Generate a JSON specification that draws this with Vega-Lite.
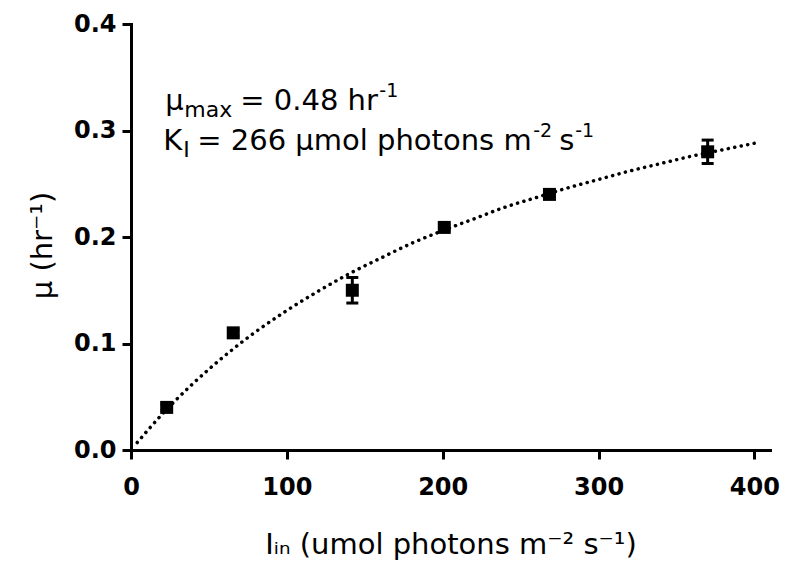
{
  "$schema": "https://vega.github.io/schema/vega-lite/v6.json",
  "width": 639,
  "height": 426,
  "autosize": {"type": "none"},
  "padding": {"left": 131, "top": 24, "right": 15, "bottom": 120},
  "background": "white",
  "config": {"view": {"stroke": null}, "font": "DejaVu Sans", "text": {"font": "DejaVu Sans", "color": "black", "align": "left", "baseline": "alphabetic"}},
  "datasets": {
    "points": [
      {"I": 22.9, "mu": 0.040, "lo": 0.037, "hi": 0.043},
      {"I": 65.6, "mu": 0.110, "lo": 0.107, "hi": 0.113},
      {"I": 142, "mu": 0.150, "lo": 0.138, "hi": 0.162},
      {"I": 201, "mu": 0.209, "lo": 0.206, "hi": 0.212},
      {"I": 268.5, "mu": 0.240, "lo": 0.237, "hi": 0.243},
      {"I": 370, "mu": 0.280, "lo": 0.269, "hi": 0.291}
    ],
    "curve": [
      {"I": 4, "mu": 0.007},
      {"I": 20, "mu": 0.0336},
      {"I": 40, "mu": 0.0627},
      {"I": 60, "mu": 0.0883},
      {"I": 80, "mu": 0.111},
      {"I": 100, "mu": 0.131},
      {"I": 120, "mu": 0.149},
      {"I": 140, "mu": 0.1655},
      {"I": 160, "mu": 0.180},
      {"I": 180, "mu": 0.194},
      {"I": 200, "mu": 0.206},
      {"I": 220, "mu": 0.217},
      {"I": 240, "mu": 0.228},
      {"I": 260, "mu": 0.237},
      {"I": 280, "mu": 0.246},
      {"I": 300, "mu": 0.254},
      {"I": 320, "mu": 0.262},
      {"I": 340, "mu": 0.269},
      {"I": 360, "mu": 0.276},
      {"I": 380, "mu": 0.282},
      {"I": 400, "mu": 0.288}
    ],
    "one": [{}]
  },
  "layer": [
    {
      "data": {"name": "curve"},
      "mark": {"type": "line", "color": "black", "strokeWidth": 3.5, "strokeCap": "round", "strokeDash": [0.1, 6.5], "interpolate": "monotone"},
      "encoding": {
        "x": {
          "field": "I", "type": "quantitative",
          "title": "Iᵢₙ (umol photons m⁻² s⁻¹)",
          "scale": {"domain": [0, 410], "nice": false, "zero": true},
          "axis": {
            "values": [0, 100, 200, 300, 400],
            "grid": false,
            "domainColor": "black", "domainWidth": 3, "domainCap": "square",
            "tickColor": "black", "tickWidth": 3, "tickSize": 9,
            "labelFont": "DejaVu Sans", "labelFontWeight": "bold", "labelFontSize": 24, "labelColor": "black",
            "labelPadding": 16, "labelFlush": false,
            "titleFont": "DejaVu Sans", "titleFontWeight": "normal", "titleFontSize": 29, "titleColor": "black",
            "titleBaseline": "alphabetic", "titleY": 103
          }
        },
        "y": {
          "field": "mu", "type": "quantitative",
          "title": "μ (hr⁻¹)",
          "scale": {"domain": [0, 0.4], "nice": false},
          "axis": {
            "values": [0, 0.1, 0.2, 0.3, 0.4],
            "format": ".1f",
            "grid": false,
            "domainColor": "black", "domainWidth": 3, "domainCap": "square",
            "tickColor": "black", "tickWidth": 3, "tickSize": 9,
            "labelFont": "DejaVu Sans", "labelFontWeight": "bold", "labelFontSize": 24, "labelColor": "black",
            "labelPadding": 6, "labelFlush": false,
            "titleFont": "DejaVu Sans", "titleFontWeight": "normal", "titleFontSize": 29, "titleColor": "black",
            "titleAngle": -90, "titleBaseline": "alphabetic", "titleAlign": "center",
            "titleX": -80, "titleY": 221
          }
        }
      }
    },
    {
      "data": {"name": "points"},
      "mark": {"type": "errorbar", "thickness": 3, "rule": {"color": "black", "opacity": 1}, "ticks": {"size": 12, "thickness": 3, "color": "black", "opacity": 1}},
      "encoding": {
        "x": {"field": "I", "type": "quantitative", "title": "Iᵢₙ (umol photons m⁻² s⁻¹)"},
        "y": {"field": "lo", "type": "quantitative", "title": "μ (hr⁻¹)"},
        "y2": {"field": "hi"}
      }
    },
    {
      "data": {"name": "points"},
      "mark": {"type": "square", "size": 169, "color": "black", "filled": true, "opacity": 1},
      "encoding": {
        "x": {"field": "I", "type": "quantitative", "title": "Iᵢₙ (umol photons m⁻² s⁻¹)"},
        "y": {"field": "mu", "type": "quantitative", "title": "μ (hr⁻¹)"}
      }
    },
    {"data": {"name": "one"}, "mark": {"type": "text", "fontSize": 29},
     "encoding": {"x": {"datum": 22.0}, "y": {"datum": 0.319}, "text": {"value": "μ"}}},
    {"data": {"name": "one"}, "mark": {"type": "text", "fontSize": 22, "dy": 7},
     "encoding": {"x": {"datum": 34.2}, "y": {"datum": 0.319}, "text": {"value": "max"}}},
    {"data": {"name": "one"}, "mark": {"type": "text", "fontSize": 29},
     "encoding": {"x": {"datum": 70.1}, "y": {"datum": 0.319}, "text": {"value": "= 0.48 hr"}}},
    {"data": {"name": "one"}, "mark": {"type": "text", "fontSize": 19, "dy": -13},
     "encoding": {"x": {"datum": 159.3}, "y": {"datum": 0.319}, "text": {"value": "-1"}}},
    {"data": {"name": "one"}, "mark": {"type": "text", "fontSize": 29},
     "encoding": {"x": {"datum": 20.7}, "y": {"datum": 0.282}, "text": {"value": "K"}}},
    {"data": {"name": "one"}, "mark": {"type": "text", "fontSize": 22, "dy": 7},
     "encoding": {"x": {"datum": 33.5}, "y": {"datum": 0.282}, "text": {"value": "I"}}},
    {"data": {"name": "one"}, "mark": {"type": "text", "fontSize": 29},
     "encoding": {"x": {"datum": 42.5}, "y": {"datum": 0.282}, "text": {"value": "= 266 μmol photons m"}}},
    {"data": {"name": "one"}, "mark": {"type": "text", "fontSize": 19, "dy": -13},
     "encoding": {"x": {"datum": 258.1}, "y": {"datum": 0.282}, "text": {"value": "-2"}}},
    {"data": {"name": "one"}, "mark": {"type": "text", "fontSize": 29},
     "encoding": {"x": {"datum": 274.8}, "y": {"datum": 0.282}, "text": {"value": "s"}}},
    {"data": {"name": "one"}, "mark": {"type": "text", "fontSize": 19, "dy": -13},
     "encoding": {"x": {"datum": 285.0}, "y": {"datum": 0.282}, "text": {"value": "-1"}}}
  ]
}
